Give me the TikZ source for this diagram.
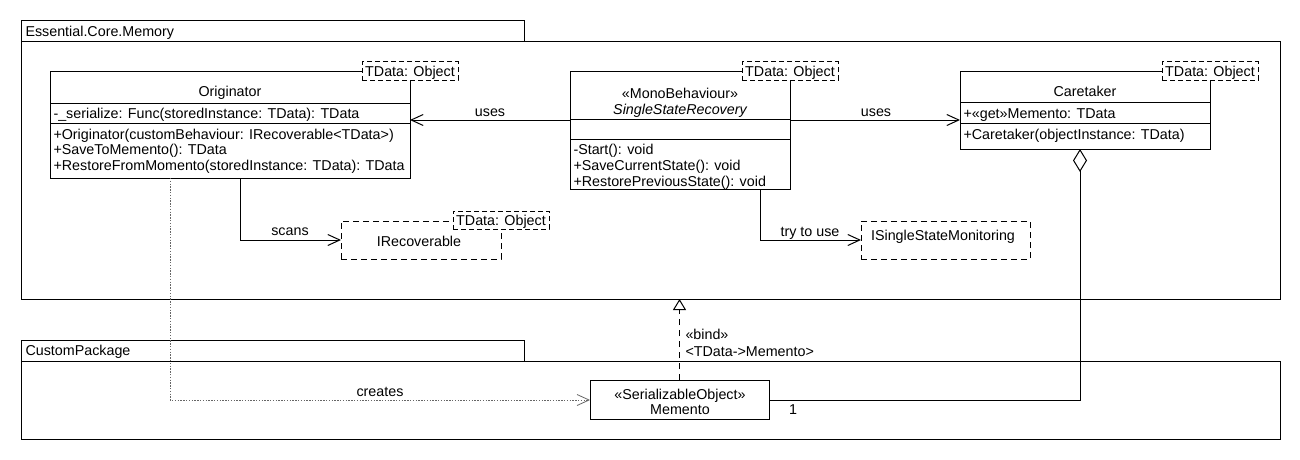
\documentclass[tikz,border=0pt]{standalone}
\usepackage{fontspec}
\setmainfont{Liberation Sans}
\usetikzlibrary{arrows.meta,calc}

\tikzset{
  box/.style={draw, anchor=north west, inner sep=0pt, outer sep=0pt},
  ifacebox/.style={box, dash pattern=on 6pt off 4pt},
  tmplbox/.style={draw, fill=white, dash pattern=on 5pt off 3pt, anchor=north west,
    inner sep=0pt, outer sep=0pt, minimum width=96, minimum height=18},
  txt/.style={inner sep=0pt, anchor=base west},
  ctxt/.style={inner sep=0pt, anchor=base},
  uses/.style={-{Straight Barb[length=12pt,width=11pt,line width=1pt]}},
  creates/.style={draw=black!60, line width=0.8pt, dash pattern=on 1.4pt off 1.4pt,
    -{Straight Barb[length=12pt,width=11pt,line width=0.8pt]}},
  bindline/.style={dash pattern=on 6pt off 5pt, -{Triangle[open,length=11pt,width=13pt,line width=1pt]}},
  aggr/.style={{Diamond[open,length=23pt,width=14pt,line width=1pt]}-}
}

\begin{document}
\begin{tikzpicture}[x=1pt,y=-1pt,line width=1pt,font=\fontsize{14.3}{16}\selectfont]
\useasboundingbox (0,0) rectangle (1300,460);
\fill[white] (0,0) rectangle (1300,460);

% ---- package Essential.Core.Memory
\node[box, minimum width=503, minimum height=21] (pkgAtab) at (21,21) {};
\node[box, minimum width=1259, minimum height=257] (pkgA) at (21,42) {};
\node[txt] (pkgAname) at (25,36.5) {Essential.Core.Memory};

% ---- package CustomPackage
\node[box, minimum width=503, minimum height=21] (pkgBtab) at (21,340) {};
\node[box, minimum width=1259, minimum height=78] (pkgB) at (21,361) {};
\node[txt] (pkgBname) at (25,355.5) {CustomPackage};

% ---- Originator
\node[box, fill=white, minimum width=360, minimum height=107] (orig) at (50,71) {};
\draw (50,103) -- (410,103);
\draw (50,123) -- (410,123);
\node[ctxt] (origname) at (230,96) {Originator};
\node[txt] (origattr) at (53,118) {-\_serialize: Func(storedInstance: TData): TData};
\node[txt] (origop1) at (53,139) {+Originator(customBehaviour: IRecoverable<TData>)};
\node[txt] (origop2) at (53,154.5) {+SaveToMemento(): TData};
\node[txt] (origop3) at (53,170) {+RestoreFromMomento(storedInstance: TData): TData};
\node[tmplbox] (origtmpl) at (362,62) {};
\node[ctxt] at ($(origtmpl.center)+(0,5)$) {TData: Object};

% ---- SingleStateRecovery
\node[box, fill=white, minimum width=220, minimum height=118] (ssr) at (570,71) {};
\draw (570,119) -- (790,119);
\draw (570,139) -- (790,139);
\node[ctxt] (ssrstereo) at (680,98) {«MonoBehaviour»};
\node[ctxt] (ssrname) at (680,114) {\itshape SingleStateRecovery};
\node[txt] (ssrop1) at (573,154) {-Start(): void};
\node[txt] (ssrop2) at (573,170) {+SaveCurrentState(): void};
\node[txt] (ssrop3) at (573,186) {+RestorePreviousState(): void};
\node[tmplbox] (ssrtmpl) at (742,62) {};
\node[ctxt] at ($(ssrtmpl.center)+(0,5)$) {TData: Object};

% ---- Caretaker
\node[box, fill=white, minimum width=250, minimum height=78] (care) at (960,71) {};
\draw (960,102) -- (1210,102);
\draw (960,123) -- (1210,123);
\node[ctxt] (carename) at (1085,96) {Caretaker};
\node[txt] (careattr) at (963,118) {+«get»Memento: TData};
\node[txt] (careop) at (963,139) {+Caretaker(objectInstance: TData)};
\node[tmplbox] (caretmpl) at (1162,62) {};
\node[ctxt] at ($(caretmpl.center)+(0,5)$) {TData: Object};

% ---- IRecoverable
\node[ifacebox, minimum width=160, minimum height=38] (irec) at (341,221) {};
\node[ctxt] (irecname) at (419,246.5) {IRecoverable};
\node[tmplbox] (irectmpl) at (453,211) {};
\node[ctxt] at ($(irectmpl.center)+(0,5)$) {TData: Object};

% ---- ISingleStateMonitoring
\node[ifacebox, minimum width=169, minimum height=38] (issm) at (861,221) {};
\node[ctxt] (issmname) at (943,240) {ISingleStateMonitoring};

% ---- Memento
\node[box, fill=white, minimum width=179, minimum height=39] (mem) at (590,380) {};
\node[ctxt] (memstereo) at (680,399) {«SerializableObject»};
\node[ctxt] (memname) at (680,414) {Memento};

% ---- relations
\coordinate (usesY) at (0,120);
\draw[uses] (ssr.west |- usesY) -- (orig.east |- usesY);
\node[ctxt] at (490,116) {uses};
\draw[uses] (ssr.east |- usesY) -- (care.west |- usesY);
\node[ctxt] at (876,116) {uses};

\coordinate (ifaceY) at (0,240);
\draw[uses] (orig.south -| 240,0) -- (240,240) -- (irec.west |- ifaceY);
\node[ctxt] at (290,235.5) {scans};
\draw[uses] (ssr.south -| 760,0) -- (760,240) -- (issm.west |- ifaceY);
\node[ctxt] at (810,236) {try to use};

\coordinate (memY) at (0,400);
\draw[creates] (orig.south -| 170,0) -- (170,400) -- (mem.west |- memY);
\node[ctxt] at (380,396) {creates};

\draw[aggr] (care.south -| 1080,0) -- (1080,400) -- (mem.east |- memY);
\node[ctxt] at (793,414) {1};

\draw[bindline] (mem.north) -- (mem.north |- pkgA.south);
\node[txt] at (685,339.5) {«bind»};
\node[txt] at (685,356) {<TData->Memento>};
\end{tikzpicture}
\end{document}
